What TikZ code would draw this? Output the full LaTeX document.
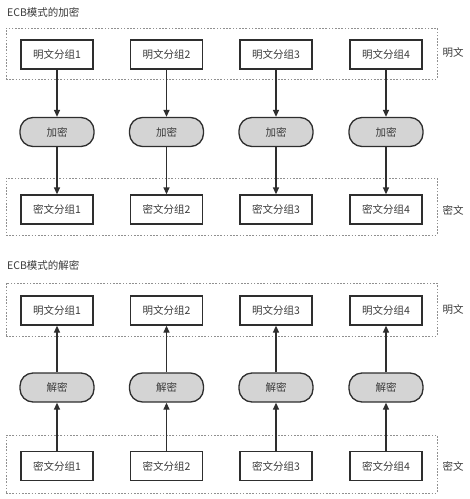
\documentclass[tikz,border=0pt]{standalone}
\usepackage{fontspec}
\setmainfont{Noto Sans CJK SC}
\usetikzlibrary{arrows.meta}
\definecolor{edge}{HTML}{2E2E2E}
\definecolor{txt}{HTML}{3A3A3A}
\definecolor{pillfill}{HTML}{D4D4D4}
\definecolor{grpline}{HTML}{909090}
\begin{document}
\begin{tikzpicture}[x=1pt,y=-1pt,
  blk/.style={draw=edge, line width=1.3pt, minimum width=72pt, minimum height=29pt, inner sep=0pt, text=txt, font=\fontsize{10.5}{12}\selectfont},
  pill/.style={draw=edge, line width=1.3pt, fill=pillfill, rounded corners=13pt, minimum width=74pt, minimum height=29pt, inner sep=0pt, text=txt, font=\fontsize{10.5}{12}\selectfont},
  grp/.style={draw=grpline, line width=0.7pt, dash pattern=on 1.6pt off 1.6pt, inner sep=0pt},
  lbl/.style={text=txt, font=\fontsize{10.5}{12}\selectfont, inner sep=0pt},
  arr/.style={draw=edge, line width=1.3pt, -{Triangle[length=7pt,width=6pt]}}
]
\useasboundingbox (0,0) rectangle (470,499);
% titles
\node[lbl, anchor=west] (t1) at (7,12) {ECB模式的加密};
\node[lbl, anchor=west] (t2) at (7,265) {ECB模式的解密};
% group boxes
\node[grp, minimum width=431pt, minimum height=51pt] (g1) at (221.5,53.5) {};
\node[grp, minimum width=431pt, minimum height=57pt] (g2) at (221.5,206.5) {};
\node[grp, minimum width=431pt, minimum height=53pt] (g3) at (221.5,309.5) {};
\node[grp, minimum width=431pt, minimum height=58pt] (g4) at (221.5,464) {};
\node[lbl] (l1) at (453,53) {明文};
\node[lbl] (l2) at (453,210) {密文};
\node[lbl] (l3) at (453,310) {明文};
\node[lbl] (l4) at (453,466) {密文};
% encryption
\foreach \i/\x in {1/57,2/166.5,3/276,4/386}{
  \node[blk] (p\i) at (\x,54.5) {明文分组\i};
  \node[pill] (e\i) at (\x,132) {加密};
  \node[blk] (c\i) at (\x,209.5) {密文分组\i};
  \draw[arr] (p\i) -- (e\i);
  \draw[arr] (e\i) -- (c\i);
}
% decryption
\foreach \i/\x in {1/57,2/166.5,3/276,4/386}{
  \node[blk] (dp\i) at (\x,310.5) {明文分组\i};
  \node[pill] (dd\i) at (\x,387.5) {解密};
  \node[blk] (dc\i) at (\x,466) {密文分组\i};
  \draw[arr] (dc\i) -- (dd\i);
  \draw[arr] (dd\i) -- (dp\i);
}
\end{tikzpicture}
\end{document}
